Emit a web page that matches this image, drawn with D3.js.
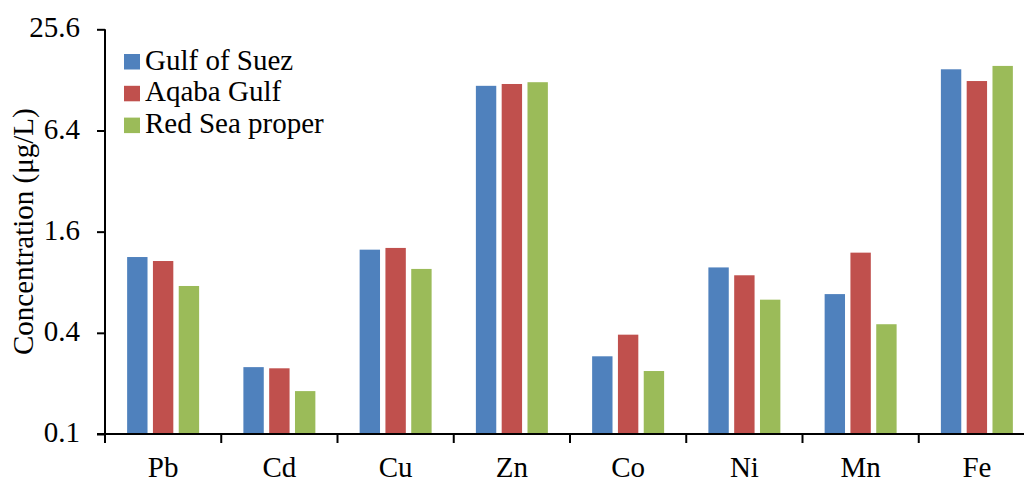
<!DOCTYPE html>
<html>
<head>
<meta charset="utf-8">
<script src="https://cdn.jsdelivr.net/npm/d3@7"></script>
<style>
  html, body { margin: 0; padding: 0; background: #fff; }
  svg { display: block; }
  text { font-family: "Liberation Serif", "Times New Roman", serif; fill: #000; }
</style>
</head>
<body>
<svg id="chart" width="1024" height="478"></svg>
<script>
const categories = ["Pb", "Cd", "Cu", "Zn", "Co", "Ni", "Mn", "Fe"];
const seriesNames = ["Gulf of Suez", "Aqaba Gulf", "Red Sea proper"];
const gulfOfSuez   = [1.13, 0.25, 1.25, 11.8, 0.29, 0.98, 0.68, 14.8];
const aqabaGulf    = [1.07, 0.246, 1.28, 12.1, 0.39, 0.88, 1.20, 12.6];
const redSeaProper = [0.76, 0.18, 0.96, 12.4, 0.237, 0.63, 0.45, 15.5];
const yTicks = [0.1, 0.4, 1.6, 6.4, 25.6];
const colors = ["#4F81BD", "#C0504D", "#9BBB59"];

const seriesValues = [gulfOfSuez, aqabaGulf, redSeaProper];
const FS = "29px";

const svg = d3.select("#chart");
const mLeft = 105, mRight = 1035, mTop = 29.3, mBottom = 434;

const x0 = d3.scaleBand().domain(categories).range([mLeft, mRight]).padding(0);
const groupW = 77.4;
const x1 = d3.scaleBand().domain(seriesNames)
  .range([(x0.bandwidth() - groupW) / 2, (x0.bandwidth() + groupW) / 2])
  .paddingInner(0.21).paddingOuter(0.105);
const y = d3.scaleLog().base(4).domain([0.1, 25.6]).range([mBottom, mTop]);
const color = d3.scaleOrdinal().domain(seriesNames).range(colors);

// bars
const groups = svg.append("g").selectAll("g")
  .data(categories)
  .join("g")
  .attr("transform", d => `translate(${x0(d)},0)`);

groups.selectAll("rect")
  .data((c, i) => seriesNames.map((s, k) => ({ s, v: seriesValues[k][i] })))
  .join("rect")
  .attr("x", d => x1(d.s))
  .attr("width", x1.bandwidth())
  .attr("y", d => y(d.v))
  .attr("height", d => mBottom - y(d.v))
  .attr("fill", d => color(d.s));

// y axis
const yAxis = d3.axisLeft(y).tickValues(yTicks).tickFormat(d => String(d))
  .tickSize(8).tickPadding(17);
const gy = svg.append("g").attr("transform", `translate(${mLeft},0)`).call(yAxis);
gy.select(".domain").attr("stroke", "#000").attr("stroke-width", 2).attr("d", `M0,${mTop}V${mBottom}`);
gy.selectAll(".tick line").attr("stroke", "#000").attr("stroke-width", 2);
gy.selectAll(".tick text").style("font-size", FS).attr("dy", "0.26em");

// x axis
const gx = svg.append("g").attr("transform", `translate(0,${mBottom})`);
gx.append("line").attr("x1", mLeft - 8).attr("x2", 1024).attr("y1", 0).attr("y2", 0)
  .attr("stroke", "#000").attr("stroke-width", 2);
const boundaries = categories.map(c => x0(c)).concat([x0(categories[categories.length - 1]) + x0.bandwidth()]);
gx.selectAll("line.tk").data(boundaries).join("line").attr("class", "tk")
  .attr("x1", d => d).attr("x2", d => d).attr("y1", 0).attr("y2", 9)
  .attr("stroke", "#000").attr("stroke-width", 2);
gx.selectAll("text").data(categories).join("text")
  .attr("x", d => x0(d) + x0.bandwidth() / 2)
  .attr("y", 42.5)
  .attr("text-anchor", "middle")
  .style("font-size", FS)
  .text(d => d);

// y axis title
svg.append("text")
  .attr("transform", `translate(33,${(mTop + mBottom) / 2}) rotate(-90)`)
  .attr("text-anchor", "middle")
  .style("font-size", FS)
  .text("Concentration (μg/L)");

// legend
const legend = svg.append("g").attr("transform", "translate(124,54)");
const li = legend.selectAll("g").data(seriesNames).join("g")
  .attr("transform", (d, i) => `translate(0,${i * 31.8})`);
li.append("rect").attr("width", 16).attr("height", 15.5).attr("fill", d => color(d));
li.append("text").attr("x", 21).attr("y", 15.5).style("font-size", FS).text(d => d);
</script>
</body>
</html>
